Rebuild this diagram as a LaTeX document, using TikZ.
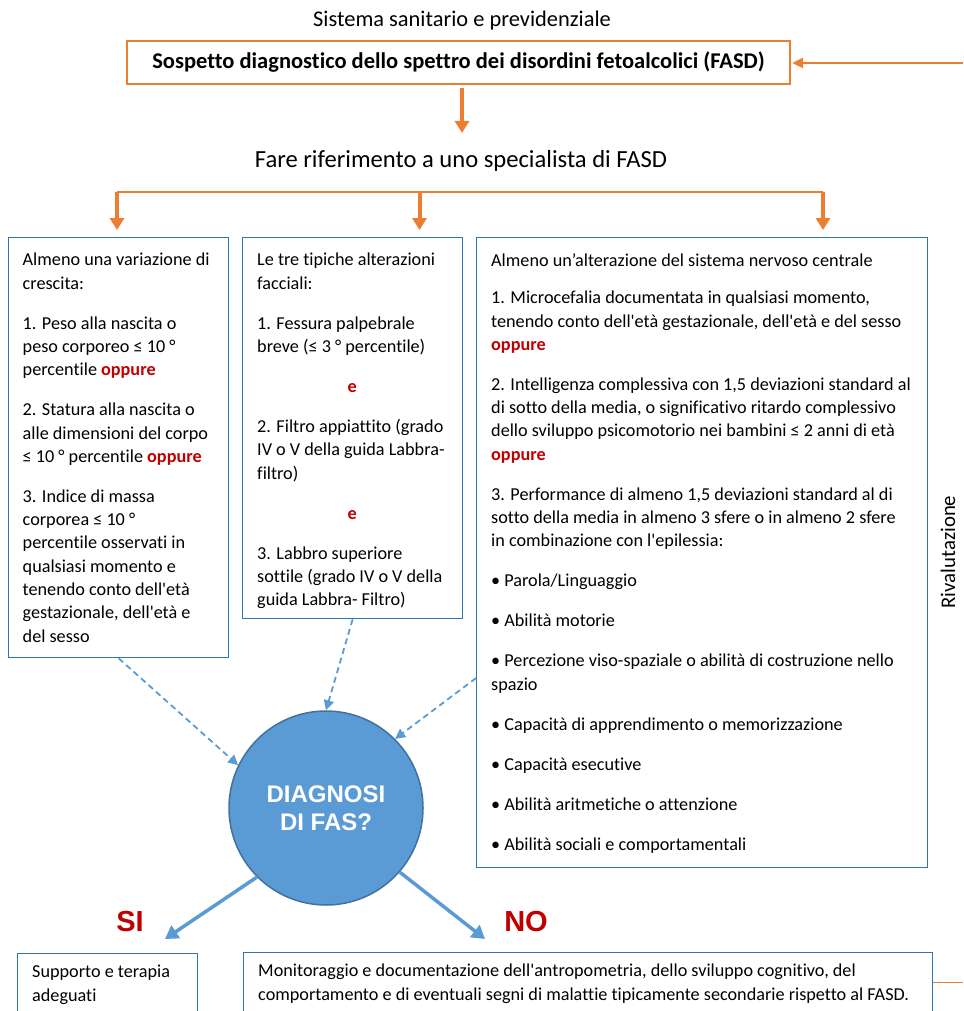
\documentclass[tikz,border=0pt]{standalone}
\usepackage{fontspec}
\setmainfont{Carlito}[Ligatures={TeXOff,NoCommon}]
\newfontfamily\arialfont{Liberation Sans}[Ligatures=TeXOff]
\usetikzlibrary{arrows.meta,positioning}
\definecolor{fasdorange}{HTML}{ED7D31}
\definecolor{boxblue}{HTML}{2E75B6}
\definecolor{lightblue}{HTML}{5B9BD5}
\definecolor{circblue}{HTML}{41719C}
\definecolor{darkred}{HTML}{C00000}
\newcommand{\opp}{\textcolor{darkred}{\textbf{oppure}}}
\newcommand{\ee}{\textcolor{darkred}{\textbf{e}}}

\begin{document}
\begin{tikzpicture}
[x=1pt, y=-1pt,
>={Triangle[width=14pt,length=12pt]},
orangearrow/.style={->, draw=fasdorange, fill=fasdorange, line width=4pt},
bluebox/.style={draw=boxblue, line width=1.3pt, anchor=north west, inner sep=0pt},
boxtext/.style={anchor=north west, inner sep=0pt, align=left,
  font=\fontsize{18.2}{23.3}\selectfont},
dasharrow/.style={-{Triangle[length=10pt,width=10pt]}, draw=lightblue,
  line width=1.8pt, dash pattern=on 6pt off 4pt},
soarrow/.style={-{Triangle[width=15pt,length=13pt]}, draw=lightblue, line width=3.5pt},
answer/.style={font=\arialfont\bfseries\fontsize{29}{30}\selectfont, text=darkred}]
  \useasboundingbox (0,0) rectangle (963,1011);
  % header
  \node[font=\fontsize{22.4}{24}\selectfont] (sistema) at (462,21) {Sistema sanitario e previdenziale};
  \node[draw=fasdorange, line width=1.4pt, minimum width=663pt, minimum height=43pt,
    font=\fontsize{22.5}{24}\selectfont\bfseries] (fasd) at (458.5,62.5)
    {Sospetto diagnostico dello spettro dei disordini fetoalcolici (FASD)};
  \node[font=\fontsize{24.6}{26}\selectfont] (rif) at (461,161) {Fare riferimento a uno specialista di FASD};
  \draw[orangearrow, shorten >=14pt] ([xshift=3.5pt,yshift=-3pt]fasd.south) -- (rif.north -| 462,0);
  % criteria boxes
  \node[bluebox, minimum width=220pt, minimum height=420pt] (crescita) at (8,237) {};
  \node[bluebox, minimum width=220pt, minimum height=381pt] (facciali) at (242,237) {};
  \node[bluebox, minimum width=451pt, minimum height=630pt] (snc) at (476,237) {};
  \coordinate (b1) at (117,191.5);
  \coordinate (b2) at (419.5,191.5);
  \coordinate (b3) at (823,191.5);
  \draw[draw=fasdorange, line width=2pt] (b1) -- (b3);
  \draw[orangearrow, shorten >=7pt] (b1) -- (b1 |- crescita.north);
  \draw[orangearrow, shorten >=7pt] (b2) -- (b2 |- facciali.north);
  \draw[orangearrow, shorten >=7pt] (b3) -- (b3 |- snc.north);
  \node[boxtext] (crescitatxt) at ([shift={(14.5,16)}]crescita.north west)
    {Almeno una variazione di\\crescita:\\[16.7pt]
     1. Peso alla nascita o\\peso corporeo ≤ 10 °\\percentile \opp\\[16.7pt]
     2. Statura alla nascita o\\alle dimensioni del corpo\\≤ 10 ° percentile \opp\\[16.7pt]
     3. Indice di massa\\corporea ≤ 10 °\\percentile osservati in\\qualsiasi momento e\\
     tenendo conto dell'età\\gestazionale, dell'età e\\del sesso};
  \node[boxtext] (faccialitxt) at ([shift={(15,16)}]facciali.north west)
    {Le tre tipiche alterazioni\\facciali:\\[16.7pt]
     1. Fessura palpebrale\\breve (≤ 3 ° percentile)\\[16.7pt]
     \makebox[190pt][c]{\ee}\\[16.7pt]
     2. Filtro appiattito (grado\\IV o V della guida Labbra-\\filtro)\\[16.7pt]
     \makebox[190pt][c]{\ee}\\[16.7pt]
     3. Labbro superiore\\sottile (grado IV o V della\\guida Labbra- Filtro)};
  \node[boxtext] (snctxt) at ([shift={(15,16)}]snc.north west)
    {Almeno un’alterazione del sistema nervoso centrale\\[14.4pt]
     1. Microcefalia documentata in qualsiasi momento,\\
     tenendo conto dell'età gestazionale, dell'età e del sesso\\\opp\\[16.7pt]
     2. Intelligenza complessiva con 1,5 deviazioni standard al\\
     di sotto della media, o significativo ritardo complessivo\\
     dello sviluppo psicomotorio nei bambini ≤ 2 anni di età\\\opp\\[16.7pt]
     3. Performance di almeno 1,5 deviazioni standard al di\\
     sotto della media in almeno 3 sfere o in almeno 2 sfere\\
     in combinazione con l'epilessia:\\[16.7pt]
     • Parola/Linguaggio\\[16.7pt]
     • Abilità motorie\\[16.7pt]
     • Percezione viso-spaziale o abilità di costruzione nello\\spazio\\[16.7pt]
     • Capacità di apprendimento o memorizzazione\\[16.7pt]
     • Capacità esecutive\\[16.7pt]
     • Abilità aritmetiche o attenzione\\[16.7pt]
     • Abilità sociali e comportamentali};
  \node[rotate=90, font=\fontsize{20.8}{22}\selectfont] (rival) at (948,552) {Rivalutazione};
  % diagnosis
  \node[circle, fill=lightblue, draw=circblue, line width=1.5pt, minimum size=194pt,
    text=white, align=center, font=\arialfont\bfseries\fontsize{24}{28}\selectfont]
    (diag) at (326,808) {DIAGNOSI\\DI FAS?};
  \coordinate (sncout) at ([yshift=-125.5pt]snc.west);
  \draw[dasharrow] (crescita.south) -- (diag.154);
  \draw[dasharrow] (facciali.south) -- (diag.north);
  \draw[dasharrow] (sncout) -- (diag.45);
  % outcomes
  \coordinate (siend) at (165,939);
  \coordinate (noend) at (485,939);
  \draw[soarrow] (diag.225) -- (siend);
  \draw[soarrow] (diag.-41) -- (noend);
  \node[answer] (si) at (130,922) {SI};
  \node[answer] (no) at (526,922) {NO};
  \node[bluebox, minimum width=180pt, minimum height=90pt] (supporto) at (17,953) {};
  \node[bluebox, minimum width=689pt, minimum height=90pt] (monitor) at (243,952) {};
  \node[boxtext] (supportotxt) at ([shift={(15,12)}]supporto.north west)
    {Supporto e terapia\\adeguati};
  \node[boxtext] (monitortxt) at ([shift={(15,12)}]monitor.north west)
    {Monitoraggio e documentazione dell'antropometria, dello sviluppo cognitivo, del\\
     comportamento e di eventuali segni di malattie tipicamente secondarie rispetto al FASD.};
  % re-evaluation loop
  \coordinate (fbin) at (963,63);
  \coordinate (fbout) at (963,982);
  \draw[orangearrow, line width=2.3pt, -{Triangle[width=10pt,length=11pt]}, shorten >=1.5pt]
    (fbin) -- (fbin -| fasd.east);
  \draw[draw=fasdorange, line width=1pt] (monitor.east |- fbout) -- (fbout);
\end{tikzpicture}
\end{document}
